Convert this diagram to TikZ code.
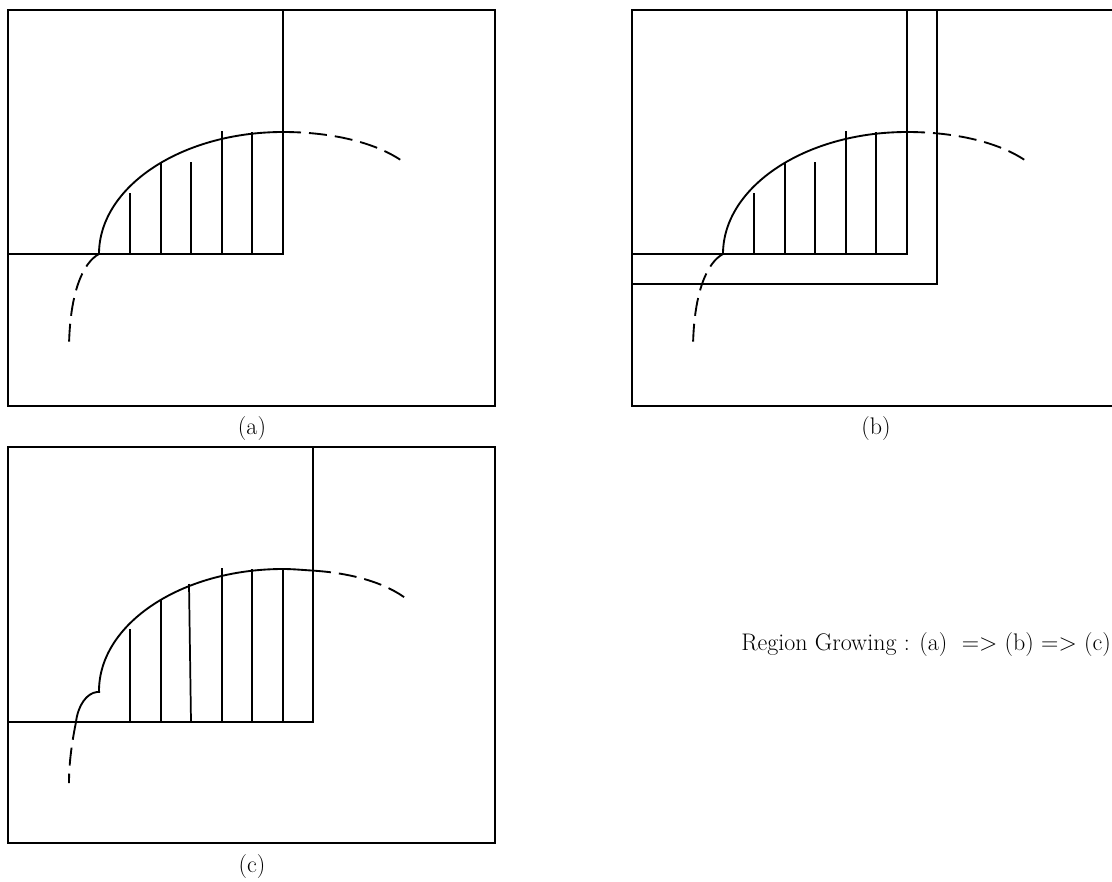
\documentclass[tikz,border=0pt]{standalone}
\usetikzlibrary{positioning}
\tikzset{frame/.style={draw,line width=1.4pt},
  bound/.style={line width=1.4pt,line join=miter},
  hatch/.style={line width=1.3pt},
  curve/.style={line width=1.4pt},
  trail/.style={line width=1.4pt,dash pattern=on 13.5pt off 6pt},
  lbl/.style={font=\fontsize{18}{21}\selectfont,inner sep=0pt}}

\begin{document}
\begin{tikzpicture}[x=0.75pt,y=-0.75pt]
\useasboundingbox (0,0) rectangle (1112,881);
\clip (0,0) rectangle (1112,881);
% frame, tag and grown boundary are the same in all three panels
\foreach \dx/\dy/\tag in {0/0/a,624/0/b,0/437/c} {
 \begin{scope}[shift={(\dx,\dy)}]
 \draw[frame] (8,10) rectangle (495,406);
 \node[lbl] (tag-\tag) at (252,429) {(\tag)};
 \draw[curve] (99,254) .. controls (99,187) and (181,132) .. (283,132);
 \end{scope}}
% (a) and (b): first region
\foreach \dx in {0,624} {
 \begin{scope}[xshift=\dx*0.75pt]
 \draw[bound] (283,10) -- (283,254) -- (8,254);
 \foreach \x/\t in {130/193,161/163,191/162,222/131,252/132}
   \draw[hatch] (\x,254) -- (\x,\t);
 \draw[trail] (283,132) .. controls (328,132) and (375,141) .. (405,163);
 \draw[trail] (99,254) .. controls (84,262) and (70,290) .. (69,346);
 \end{scope}}
% (b): grown band
\begin{scope}[xshift=468pt]
\draw[bound] (313,10) -- (313,284) -- (8,284);
\end{scope}
% (c): new region
\begin{scope}[yshift=-327.75pt]
\draw[bound] (313,10) -- (313,285) -- (8,285);
\foreach \x/\t in {130/192,161/163,222/131,252/132,283/132}
  \draw[hatch] (\x,285) -- (\x,\t);
\draw[hatch] (191,285) -- (189,147);
\draw[curve] (283,132) .. controls (293,132) and (303,133) .. (313,133.6);
\draw[trail] (313,133.6) .. controls (350,136) and (385,145) .. (408,163);
\draw[curve] (76,285) .. controls (78,268) and (87,256) .. (97,255) -- (100,255);
\draw[trail] (76,285) .. controls (72,305) and (69,325) .. (69,346);
\end{scope}
\node[lbl,anchor=west] (caption) at (741,645) {Region Growing : (a)\ \ => (b) => (c)};
\end{tikzpicture}
\end{document}
